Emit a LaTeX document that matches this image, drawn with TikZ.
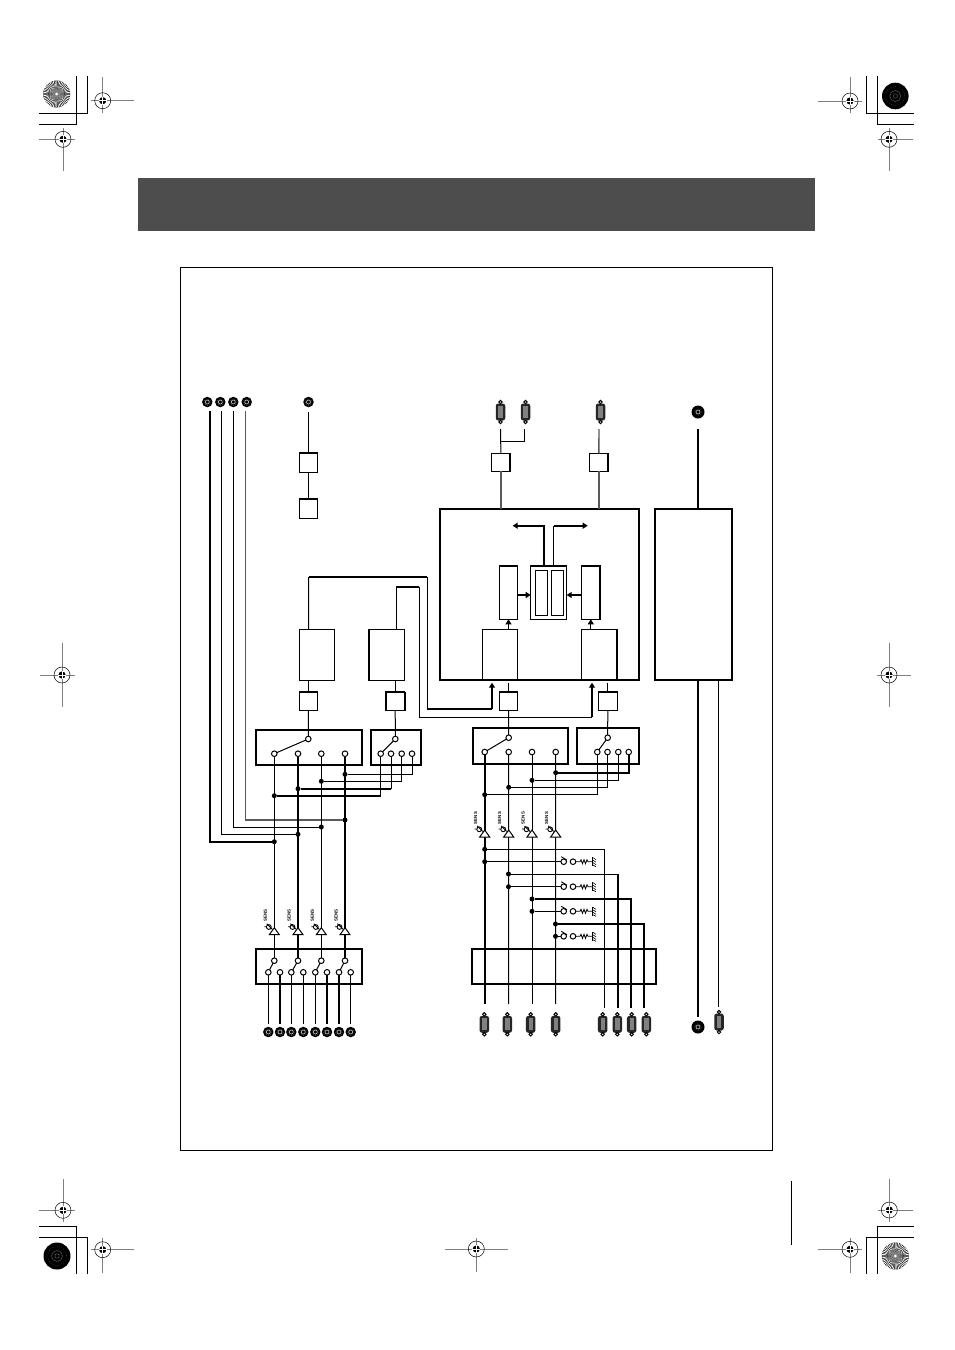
\documentclass[tikz,border=0pt]{standalone}
\usepackage{fontspec}
\setmainfont{Liberation Sans}
\usetikzlibrary{arrows.meta,calc}
\definecolor{barcol}{HTML}{4D4D4D}
\definecolor{regcol}{HTML}{808080}
\tikzset{
  x=1pt,y=-1pt,
  thinw/.style={line width=1pt},
  heavy/.style={line width=2.3pt},
  midw/.style={line width=1.5pt},
  greyw/.style={line width=1.4pt,draw=black!65},
  tip/.style={-{Triangle[length=5pt,width=6pt]}},
  blkbase/.style={draw,inner sep=0pt,outer sep=0pt,rectangle},
  frame/.style={blkbase,line width=2pt},
  fine/.style={blkbase,line width=1pt},
  med/.style={blkbase,line width=1.5pt},
  port/.style={draw,circle,line width=1pt,inner sep=0pt,outer sep=0pt,minimum size=5.6pt},
  jdot/.style={fill=black,circle,inner sep=0pt,outer sep=0pt,minimum size=5pt},
  jackn/.style={fill=black,circle,inner sep=0pt,outer sep=0pt},
  dbody/.style={fill=black!85,rounded corners=2.5pt,inner sep=0pt,outer sep=0pt,minimum width=9.5pt,minimum height=17pt},
  crop/.style={line width=1pt,draw=black},
  reg/.style={line width=0.9pt,draw=regcol},
  senstxt/.style={inner sep=0pt,font=\fontsize{4.4}{5}\selectfont\bfseries,rotate=90},
}
% box by its corners
\newcommand{\blk}[6]{%
  \pgfmathsetmacro{\bw}{#4-#2}\pgfmathsetmacro{\bh}{#5-#3}%
  \pgfmathsetmacro{\bx}{(#2+#4)/2}\pgfmathsetmacro{\by}{(#3+#5)/2}%
  \node[#6,minimum width=\bw pt,minimum height=\bh pt] (#1) at (\bx,\by) {};}
\newcommand{\prt}[3]{\node[port] (#1) at (#2,#3) {};}
\newcommand{\jn}[3]{\node[jdot] (#1) at (#2,#3) {};}
% round jack
\newcommand{\jk}[4]{%
  \node[jackn,minimum size=#4 pt] (#1) at (#2,#3) {};
  \draw[black!30,line width=0.7pt] (#2,#3) circle (2);
  \draw[black!40,line width=0.4pt,dotted] (#2,#3) circle (3.4);}
% D-sub connector
\newcommand{\dbc}[3]{%
  \node[dbody] (#1) at (#2,#3) {};
  \fill[black!50] ($(#2,#3)+(-2.2,-6)$) rectangle ($(#2,#3)+(2.2,6)$);
  \draw[line width=1pt] (#2,#3-10) circle (1.7) (#2,#3+10) circle (1.7);}
% registration mark
\newcommand{\regm}[6]{%
  \draw[reg] (#3,#2) -- (#4,#2) (#1,#5) -- (#1,#6);
  \draw[line width=0.5pt,black] (#1,#2) circle (8);
  \fill[black] (#1,#2) circle (3.6);
  \draw[white,line width=0.7pt] (#1-4,#2) -- (#1+4,#2) (#1,#2-4) -- (#1,#2+4);}
% printer's discs
\newcommand{\sunb}[3]{%
  \fill[black] (#1,#2) circle (#3);
  \foreach \a in {0,7.5,...,352.5}{
    \fill[white] ({#1+2.5*cos(\a)},{#2+2.5*sin(\a)}) -- ({#1+#3*cos(\a-1.9)},{#2+#3*sin(\a-1.9)}) -- ({#1+#3*cos(\a+1.9)},{#2+#3*sin(\a+1.9)}) -- cycle;}
  \fill[black!50] (#1,#2) circle (4);
  \fill[white] (#1,#2) circle (1.5);}
\newcommand{\blackdisc}[3]{%
  \fill[black] (#1,#2) circle (#3);
  \draw[black!55,line width=0.35pt] (#1,#2) circle (2.2) (#1,#2) circle (5.5);
  \draw[black!40,line width=0.35pt,dotted] (#1,#2) circle (9.5);}
% sense symbol
\newcommand{\sens}[2]{%
  \draw[thinw,fill=white,line join=miter] (#1,#2) -- (#1-5,#2+7) -- (#1+5,#2+7) -- cycle;
  \draw[line width=0.9pt] (#1-5.5,#2-0.7) circle (2.4);
  \draw[line width=0.9pt] (#1-10,#2-1) -- (#1-8,#2-1) (#1-7.5,#2-4) -- (#1-2,#2+1.5);
  \node[senstxt] at (#1-9,#2-12) {SENS};}
% switch with resistor to ground
\newcommand{\swres}[2]{%
  \prt{#1a}{563.7}{#2}\prt{#1b}{573}{#2}
  \draw[line width=0.9pt] (561.3,#2-5) -- (567,#2-1.5);
  \draw[line width=0.8pt] (#1b) -- (580,#2) -- (581,#2-2) -- (582.5,#2+2) -- (584,#2-2) -- (585.5,#2+2) -- (587,#2-2) -- (588,#2) -- (592.5,#2);
  \draw[line width=1.6pt] (592.5,#2-4.5) -- (592.5,#2+4.5);
  \draw[line width=0.6pt] (593,#2-4) -- (596,#2-2) (593,#2-1.5) -- (596,#2+0.5) (593,#2+1) -- (596,#2+3) (593,#2+3.5) -- (596,#2+5);}
\begin{document}
\begin{tikzpicture}
\useasboundingbox (0,0) rectangle (954,1350);
\fill[white] (0,0) rectangle (954,1350);

% header bar and frame
\fill[barcol] (138,178) rectangle (815,231);
\draw[line width=0.9pt] (180.5,267.5) rectangle (772.5,1150.5);
\draw[line width=1pt] (791,1181) -- (791,1245);

% crop marks
\draw[crop] (39,124.3) -- (76.3,124.3) -- (76.3,76);
\draw[crop] (39,113.3) -- (87.3,113.3) -- (87.3,76);
\draw[crop] (914,113.3) -- (866.3,113.3) -- (866.3,76);
\draw[crop] (914,124.3) -- (877.3,124.3) -- (877.3,76);
\draw[crop] (39,1226.7) -- (76.3,1226.7) -- (76.3,1274);
\draw[crop] (39,1237.3) -- (87.3,1237.3) -- (87.3,1274);
\draw[crop] (914,1226.7) -- (877.3,1226.7) -- (877.3,1274);
\draw[crop] (914,1237.3) -- (866.3,1237.3) -- (866.3,1274);
\sunb{56.7}{94}{13.5}
\blackdisc{895.3}{96}{13.3}
\blackdisc{57}{1256}{13.5}
\sunb{895.3}{1256}{13.5}
\regm{102.7}{100.7}{91}{134}{77}{112.5}
\regm{63}{139.3}{39}{75}{128}{171}
\regm{850}{101}{818}{862}{77}{113}
\regm{889}{139.3}{878}{913}{128}{171}
\regm{63}{1210.3}{39}{75}{1179}{1222}
\regm{102.7}{1249.7}{91}{134}{1238}{1273}
\regm{889.3}{1210}{878}{913}{1179}{1222}
\regm{850}{1249.3}{818}{862}{1238}{1273}
\regm{62}{675}{40}{75}{643}{707}
\regm{889}{675}{877}{911}{643}{707}
\regm{476.3}{1249}{445}{508}{1238}{1272}

% ---------- nodes: top jacks
\jk{ja}{207.3}{402}{10.5}\jk{jb}{220.3}{402}{10.5}\jk{jc}{233.3}{402}{10.5}\jk{jd}{246.7}{402}{10.5}
\jk{je}{308.5}{402}{10.5}
\dbc{ca}{500.5}{412}\dbc{cb}{525.5}{412}\dbc{cc}{600.5}{412}
\jk{jbig}{698}{412}{13}

% upper left small boxes
\blk{ua}{299.3}{453.3}{317.7}{472.3}{fine}
\blk{ub}{299.3}{499.3}{317.7}{518}{fine}
% interface boxes above DSP
\blk{uc}{491.3}{453.3}{510.3}{471.3}{fine}
\blk{ud}{589.3}{453.3}{608.3}{471.3}{fine}

% big blocks
\blk{dsp}{440}{508.7}{639}{679.7}{frame}
\blk{psu}{655}{508.7}{732}{679.7}{frame}
\blk{ctr}{530.7}{565.7}{566.7}{619.3}{med}
\blk{inl}{535.3}{570.3}{547.7}{615.3}{fine}
\blk{inr}{551.3}{570.3}{563.7}{615.3}{fine}
\blk{tl}{499.3}{565.7}{517.7}{619.3}{fine}
\blk{tr}{581.3}{565.7}{600.3}{619.3}{fine}
\blk{ll}{482.3}{629.3}{517.7}{679.7}{fine}
\blk{lr}{581.3}{629.3}{617}{679.7}{fine}

% middle blocks
\blk{ma}{299.3}{629.3}{334.3}{680.7}{fine}
\blk{mb}{368.7}{629.3}{404.7}{680.7}{fine}
\blk{sa}{299.3}{691.7}{317.7}{710.7}{fine}
\blk{sb}{385.7}{691.7}{404.7}{710.7}{fine}
\blk{sc}{499.3}{691.7}{517.7}{710.7}{fine}
\blk{sd}{598.3}{691.7}{617.3}{710.7}{med}

% selector boxes
\blk{la}{255.7}{729.7}{362.3}{765}{frame}
\blk{lb}{370.7}{729.7}{421.3}{765}{frame}
\blk{ra}{472.7}{728}{568.3}{763.7}{frame}
\blk{rb}{576.7}{728}{639}{763.7}{frame}
\blk{bl}{255.7}{949}{361.7}{983.7}{frame}
\blk{br}{471.7}{948.7}{656.3}{984}{frame}

% ports of selector boxes
\prt{lt}{308.3}{739}\prt{lp1}{274.3}{753.7}\prt{lp2}{298}{753.7}\prt{lp3}{321.3}{753.7}\prt{lp4}{345}{753.7}
\prt{mt}{395.3}{739}\prt{mp1}{380.7}{753.7}\prt{mp2}{391}{753.7}\prt{mp3}{401.7}{753.7}\prt{mp4}{412}{753.7}
\prt{rt}{508.7}{737.7}\prt{rp1}{484.7}{752}\prt{rp2}{508.7}{752}\prt{rp3}{532}{752}\prt{rp4}{555.7}{752}
\prt{qt}{607.7}{737.7}\prt{qp1}{597.3}{752}\prt{qp2}{607.5}{752}\prt{qp3}{618.3}{752}\prt{qp4}{628.7}{752}

% lower left input switch
\prt{bt1}{274.3}{960.7}\prt{bt2}{298}{960.7}\prt{bt3}{321.3}{960.7}\prt{bt4}{345}{960.7}
\prt{bb1}{268.3}{972.3}\prt{bb2}{280}{972.3}\prt{bb3}{291.3}{972.3}\prt{bb4}{303.3}{972.3}
\prt{bb5}{315.3}{972.3}\prt{bb6}{327}{972.3}\prt{bb7}{339}{972.3}\prt{bb8}{350.7}{972.3}
\jk{bj1}{268.3}{1032}{10.5}\jk{bj2}{280}{1032}{10.5}\jk{bj3}{291.3}{1032}{10.5}\jk{bj4}{303.3}{1032}{10.5}
\jk{bj5}{315.3}{1032}{10.5}\jk{bj6}{327}{1032}{10.5}\jk{bj7}{339}{1032}{10.5}\jk{bj8}{350.7}{1032}{10.5}

% bottom connectors
\dbc{dc1}{484.3}{1024.3}\dbc{dc2}{507.3}{1024.3}\dbc{dc3}{530.7}{1024.3}\dbc{dc4}{555.7}{1024.3}
\dbc{dc5}{602.7}{1024.3}\dbc{dc6}{617.3}{1024.3}\dbc{dc7}{631.7}{1024.3}\dbc{dc8}{646.3}{1024.3}
\jk{jbot}{698}{1027}{13}\dbc{dc9}{719}{1022}

% junction dots, left group
\jn{d11}{345}{774.3}\jn{d12}{321.3}{781.3}\jn{d13}{298}{788.7}\jn{d14}{274.3}{795.7}
\jn{d21}{345}{820}\jn{d22}{321.3}{827}\jn{d23}{298}{834.3}\jn{d24}{274.3}{841.7}
% junction dots, right group
\jn{d31}{555.7}{772.7}\jn{d32}{532}{780.3}\jn{d33}{508.7}{787.3}\jn{d34}{484.7}{794.7}
\jn{e1}{484.7}{849.3}\jn{f1}{484.7}{861.7}
\jn{e2}{508.5}{874}\jn{f2}{508.5}{886.7}
\jn{e3}{532}{899}\jn{f3}{532}{911.3}
\jn{e4}{555.5}{924}\jn{f4}{555.5}{936.3}

% named free ends
\coordinate (ea) at (210,411);\coordinate (eb) at (221.5,411);\coordinate (ec) at (233.3,411);\coordinate (ed) at (245.2,411);
\coordinate (ta) at (500.7,429);\coordinate (tb) at (524.7,429);\coordinate (tc) at (599,429);
\coordinate (brj) at (500.7,441.7);
\coordinate (tbig) at (698,429);\coordinate (bbig) at (698,1017);\coordinate (ttn) at (718.3,680);\coordinate (btn) at (718.3,1007);
\coordinate (q1) at (308.7,577);\coordinate (q2) at (427.3,577);\coordinate (q3) at (427.3,709);\coordinate (q4) at (492,709);\coordinate (q5) at (492,682.7);
\coordinate (w1) at (396.3,587);\coordinate (w2) at (419.3,587);\coordinate (w3) at (419.3,717.3);\coordinate (w4) at (592,717.3);\coordinate (w5) at (592,682.7);
\coordinate (mid) at (548,595);
\coordinate (cn1) at (544.3,565.7);\coordinate (cn2) at (553.7,565.7);\coordinate (cn3) at (553.7,525.7);
\coordinate (hl) at (512.7,525.7);\coordinate (hr) at (587.7,525.7);
\coordinate (z1) at (484.7,1004);\coordinate (z2) at (508.5,1004);\coordinate (z3) at (532,1004);\coordinate (z4) at (555.5,1004);
\coordinate (z5) at (604.3,1007.7);\coordinate (z6) at (618,1007.7);\coordinate (z7) at (631,1007.7);\coordinate (z8) at (644,1007.7);

% thick edges of boxes
\foreach \n in {ua,ub,sa,sb,sc,tl,tr}{\draw[line width=2pt] (\n.north west) -- (\n.north east);}
\draw[line width=2pt] (uc.north east) -- (uc.south east);
\draw[line width=2pt] (ud.north east) -- (ud.south east);
\draw[line width=2pt] (tr.north east) -- (tr.south east);
\draw[line width=2pt] (lr.north east) -- (lr.south east);
\draw[line width=2pt] (mb.north west) -- (mb.south west);
\draw[line width=1.6pt] (sb.north west) -- (sb.south west) (sb.north east) -- (sb.south east);
\draw[line width=2pt] (sd.north west) -- (sd.north east);
\draw[line width=2pt] (ctr.north west) -- (ctr.north east);

% ---------- connectors: top row
\draw[heavy] (ea) |- (d24);
\draw[thinw] (eb) |- (d23);
\draw[thinw] (ec) |- (d22);
\draw[greyw] (ed) |- (d21);
\draw[thinw] ([yshift=-5pt]je.south) -- (ua);
\draw[thinw] (ua) -- (ub);

\draw[thinw] (ta) -- (uc);
\draw[greyw] (uc) -- (uc |- dsp.north);
\draw[thinw] (brj) -| (tb);
\draw[greyw] (tc) -- (ud);
\draw[greyw] (ud) -- (ud |- dsp.north);
\draw[heavy] (tbig) -- (tbig |- psu.north);

% inside DSP
\draw[heavy,tip] (cn1) |- (hl);
\draw[thinw] (cn2) -- (cn3);
\draw[heavy,tip] (cn3) -- (hr);
\draw[heavy,tip] (tl.east |- mid) -- (ctr.west |- mid);
\draw[heavy,tip] (tr.west |- mid) -- (ctr.east |- mid);
\draw[thinw,tip] (ll.north -| tl) -- (tl.south);
\draw[thinw,tip] (lr.north -| tr) -- (tr.south);

% feedback wiring
\draw[thinw] (ma.north -| sa) -- (q1);
\draw[heavy] (q1) -- (q2);
\draw[midw] (q2) -- (q3);
\draw[heavy] (q3) -- (q4);
\draw[heavy,tip] (q4) -- (q5);
\draw[thinw] (w1 |- mb.north) -- (w1);
\draw[heavy] (w1) -- (w2);
\draw[thinw] (w2) -- (w3) -- (w4);
\draw[heavy,tip] (w4) -- (w5);

% boxes to selectors
\draw[thinw] (sa |- ma.south) -- (sa);
\draw[thinw] (sa) -- (lt);
\draw[thinw] (sb |- mb.south) -- (sb);
\draw[thinw] (sb) -- (mt);
\draw[thinw] (sc |- q5) -- (sc);
\draw[thinw] (sc) -- (rt);
\draw[thinw] (sd |- w5) -- (sd);
\draw[thinw] (sd) -- (qt);

% selector arms
\draw[thinw] (lt) -- (lp1);
\draw[thinw] (mt) -- (mp1);
\draw[thinw] (rt) -- (rp1);
\draw[thinw] (qt) -- (qp1);

% left verticals
\draw[thinw] (lp1) -- (bt1);
\draw[heavy] (lp2) -- (bt2);
\draw[thinw] (lp3) -- (bt3);
\draw[heavy] (lp4) -- (bt4);
\draw[thinw] (mp4) |- (d11);
\draw[thinw] (mp3) |- (d12);
\draw[thinw] (mp2.south) -- (mp2 |- d13);
\draw[heavy] (mp2 |- d13) -- (d13);
\draw[thinw] (mp1.south) -- (mp1 |- d14);
\draw[heavy] (mp1 |- d14) -- (d14);

% lower left switches and jacks
\draw[thinw] (bt1) -- (bb1);\draw[thinw] (bt2) -- (bb3);\draw[thinw] (bt3) -- (bb5);\draw[thinw] (bt4) -- (bb7);
\draw[thinw] (bb1) -- ([yshift=3pt]bj1.north);
\draw[heavy] (bb2) -- ([yshift=3pt]bj2.north);
\draw[thinw] (bb3) -- ([yshift=3pt]bj3.north);
\draw[thinw] (bb4) -- ([yshift=3pt]bj4.north);
\draw[thinw] (bb5) -- ([yshift=3pt]bj5.north);
\draw[heavy] (bb6) -- ([yshift=3pt]bj6.north);
\draw[heavy] (bb7) -- ([yshift=3pt]bj7.north);
\draw[thinw] (bb8) -- ([yshift=3pt]bj8.north);

% right verticals
\draw[heavy] (rp1) -- (z1);
\draw[thinw] (rp2) -- (z2);
\draw[thinw] (rp3) -- (z3);
\draw[thinw] (rp4) -- (z4);
\draw[heavy] (qp4) |- (d31);
\draw[thinw] (qp3) |- (d32);
\draw[thinw] (qp2) |- (d33);
\draw[thinw] (qp1) |- (d34);

% switch resistor groups
\swres{sw1}{861.7}\swres{sw2}{886.7}\swres{sw3}{911.3}\swres{sw4}{936.3}
\draw[thinw] (f1) -- (sw1a);
\draw[thinw] (f2) -- (sw2a);
\draw[thinw] (f3) -- (sw3a);
\draw[thinw] (f4) -- (sw4a);
\draw[thinw] (e1) -| (z5);
\draw[thinw] (e2) -- (e2 -| z6);
\draw[heavy] (e2 -| z6) -- (z6);
\draw[heavy] (e3) -| (z7);
\draw[heavy] (e4) -| (z8);

% power block wires
\draw[heavy] (tbig |- psu.south) -- (bbig);
\draw[thinw] (ttn) -- (btn);

% sense symbols
\sens{274.3}{927.7}\sens{298}{927.7}\sens{321.3}{927.7}\sens{345}{927.7}
\sens{484.7}{830}\sens{508.7}{830}\sens{532}{830}\sens{555.7}{830}
\end{tikzpicture}
\end{document}
